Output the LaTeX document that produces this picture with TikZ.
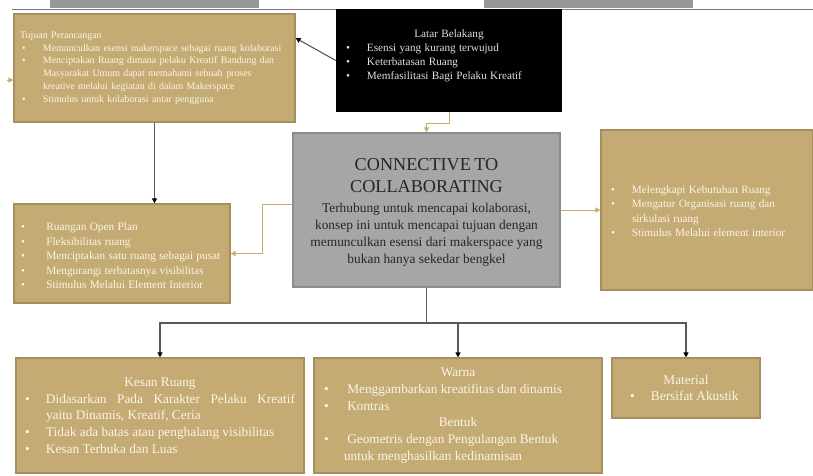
\documentclass[tikz,border=0pt]{standalone}
\usepackage{fontspec}
\setmainfont{Liberation Serif}
\usetikzlibrary{arrows.meta, calc}

\definecolor{tanfill}{HTML}{C4AB74}
\definecolor{tanedge}{HTML}{A68F5C}
\definecolor{tanline}{HTML}{C9AC6B}
\definecolor{cream}{HTML}{FBF5E6}
\definecolor{conceptfill}{HTML}{A6A6A6}
\definecolor{conceptedge}{HTML}{8C8C8C}
\definecolor{stripgray}{HTML}{979797}

% bullet item with hanging indent
\newcommand{\bul}[1][23pt]{\par\noindent\hangindent=#1\hangafter=1\makebox[#1][l]{\hspace{2pt}\textbullet}}

\begin{document}
\begin{tikzpicture}[x=1pt, y=-1pt]

        % 1. Canvas and the cut-off strip at the top
        \useasboundingbox (0,0) rectangle (813,475);
        \fill[stripgray] (50,0) rectangle (259,8);
        \fill[stripgray] (484,0) rectangle (693,8);
        \draw[stripgray!80!black, line width=0.8pt] (12,9) -- (813,9);

        % 2. Styles
        \tikzset{
          tanbox/.style={draw=tanedge, fill=tanfill, line width=1.2pt, text=cream, inner sep=0pt},
          blackbox/.style={fill=black, text=white!88!black, inner sep=0pt},
          conceptbox/.style={draw=conceptedge, fill=conceptfill, line width=1.2pt, text=black!85, inner sep=0pt},
          tanarrow/.style={draw=tanline, line width=0.9pt, -{Triangle[length=5pt, width=5pt]}},
          darkarrow/.style={draw=black!65, line width=1.1pt, -{Triangle[length=5pt, width=5pt, color=black]}},
          treeline/.style={draw=black!60, line width=1.2pt}
        }

        % 3. The boxes
        % Tujuan Perancangan (top left)
        \node[tanbox, minimum width=281, minimum height=108, text width=269pt] (tujuan) at (154.5,68) {%
          \fontsize{9.9}{12.8}\selectfont\raggedright
          Tujuan Perancangan
          \bul Memunculkan esensi makerspace sebagai ruang kolaborasi
          \bul Menciptakan Ruang dimana pelaku Kreatif Bandung dan\newline Masyarakat Umum dapat memahami sebuah proses\newline kreative melalui kegiatan di dalam Makerspace
          \bul Stimulus untuk kolaborasi antar pengguna\par};

        % Latar Belakang (black, top)
        \node[blackbox, minimum width=226, minimum height=103, text width=210pt] (latar) at (449,60.5) {%
          \fontsize{11.2}{14}\selectfont\raggedright
          {\centering Latar Belakang\par}
          \bul Esensi yang kurang terwujud
          \bul Keterbatasan Ruang
          \bul Memfasilitasi Bagi Pelaku Kreatif\par\vspace{10pt}};

        % Concept (grey, centre)
        \node[conceptbox, minimum width=267, minimum height=154, text width=254pt] (concept) at (426.5,210) {%
          \centering
          {\fontsize{18.2}{22}\selectfont CONNECTIVE TO\\ COLLABORATING\par}
          \vspace{3pt}
          {\fontsize{13.4}{16.8}\selectfont Terhubung untuk mencapai kolaborasi,\\ konsep ini untuk mencapai tujuan dengan\\ memunculkan esensi dari makerspace yang\\ bukan hanya sekedar bengkel\par}
          \vspace{-5pt}};

        % right box
        \node[tanbox, minimum width=212, minimum height=160, text width=196pt] (ruang) at (707,210) {%
          \fontsize{11.2}{14.3}\selectfont\raggedright
          \bul Melengkapi Kebutuhan Ruang
          \bul Mengatur Organisasi ruang dan\newline sirkulasi ruang
          \bul Stimulus Melalui element interior\par\vspace{4pt}};

        % left middle box
        \node[tanbox, minimum width=216, minimum height=99, text width=206pt] (openplan) at (122,253.5) {%
          \fontsize{11.3}{14.6}\selectfont\raggedright
          \bul[24pt] Ruangan Open Plan
          \bul[24pt] Fleksibilitas ruang
          \bul[24pt] Menciptakan satu ruang sebagai pusat
          \bul[24pt] Mengurangi terbatasnya visibilitas
          \bul[24pt] Stimulus Melalui Element Interior\par\vspace{2pt}};

        % bottom row
        \node[tanbox, minimum width=288, minimum height=115, text width=274pt] (kesan) at (160,415.5) {%
          \fontsize{13.3}{16.8}\selectfont\raggedright
          {\centering Kesan Ruang\par}
          \bul\makebox[249pt][l]{Didasarkan\hfill Pada\hfill Karakter\hfill Pelaku\hfill Kreatif}\newline yaitu Dinamis, Kreatif, Ceria
          \bul Tidak ada batas atau penghalang visibilitas
          \bul Kesan Terbuka dan Luas\par};

        \node[tanbox, minimum width=288, minimum height=115, text width=272pt] (warna) at (458,415.5) {%
          \fontsize{13.3}{16.8}\selectfont\raggedright
          {\centering Warna\par}
          \bul[22pt] Menggambarkan kreatifitas dan dinamis
          \bul[22pt] Kontras\par
          {\centering Bentuk\par}
          \bul[22pt] Geometris dengan Pengulangan Bentuk\newline untuk menghasilkan kedinamisan\par};

        \node[tanbox, minimum width=148, minimum height=60, text width=116pt] (material) at (686,388) {%
          \fontsize{13.3}{16.8}\selectfont\raggedright
          {\centering Material\par}
          \bul Bersifat Akustik\par};

        % 4. Connectors
        \draw[darkarrow] (latar.west) -- (tujuan.12.4);
        \draw[tanarrow] (latar.south) -- ++(0,11) -| (concept.north);
        \draw[tanarrow] (concept.east) -- (ruang.west);
        \draw[tanarrow] ($(concept.west)+(0,-6)$) -- ++(-30,0) |- (openplan.east);
        \draw[darkarrow] (tujuan.south) -- (tujuan.south |- openplan.north);

        % stub on the left edge of Tujuan
        \coordinate (stub) at (7,80);
        \draw[tanarrow] (stub) -- (stub -| tujuan.west);

        % tree below the concept
        \coordinate (bus) at (426.5,323);
        \draw[treeline] (concept.south) -- (bus);
        \draw[darkarrow] (bus) -| (kesan.north);
        \draw[darkarrow] (bus) -| (material.north);
        \draw[darkarrow] (bus -| warna.north) -- (warna.north);

\end{tikzpicture}
\end{document}
